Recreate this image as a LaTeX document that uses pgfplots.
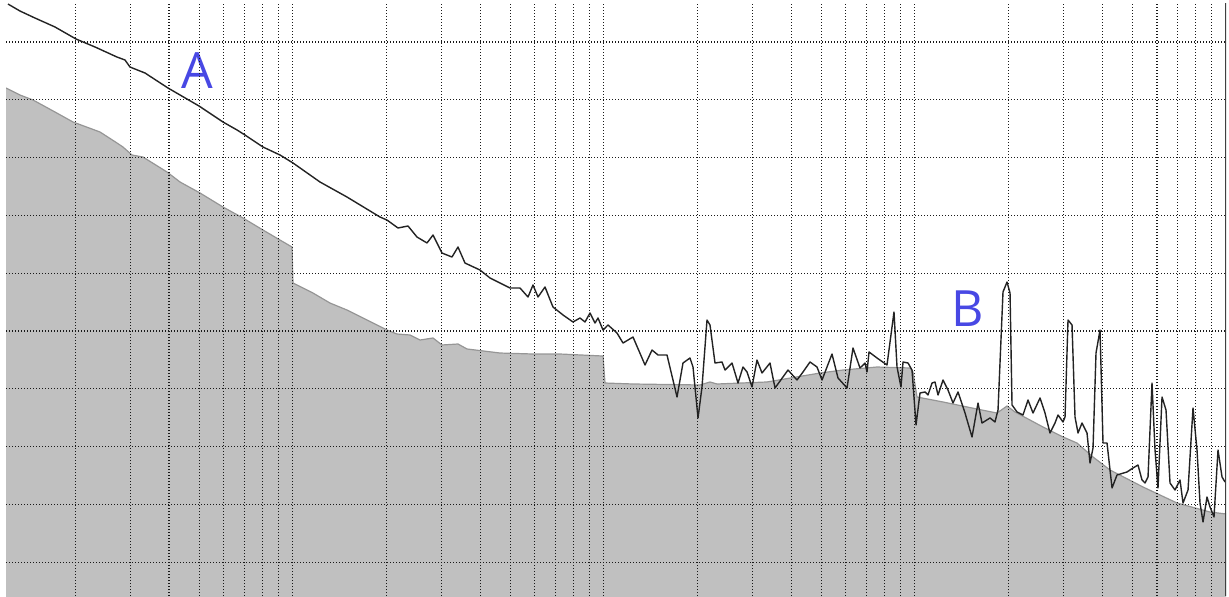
\documentclass[border=0pt]{standalone}
\usepackage{fontspec}
\setmainfont{Open Sans}
\usepackage{pgfplots}
\usepackage{pgfplotstable}
\pgfplotsset{compat=1.18}
\usetikzlibrary{calc}
\definecolor{fillgray}{RGB}{192,192,192}
\definecolor{edgegray}{RGB}{150,150,150}
\definecolor{linegray}{RGB}{35,35,35}
\definecolor{lblue}{RGB}{72,72,228}

% x = log10(frequency), y = level (grid every 10)
\pgfplotstableread{
x y
1.0781 82.04
1.1231 80.83
1.1649 79.97
1.2356 77.89
1.2935 76.16
1.3803 74.43
1.4349 72.53
1.4542 71.83
1.4831 70.45
1.5185 70.10
1.5957 67.51
1.6375 65.78
1.7017 63.88
1.7757 61.45
1.8400 59.55
1.9043 57.47
1.9589 55.74
1.9975 54.53
2.0007 48.30
2.0650 46.57
2.1197 44.84
2.1743 43.63
2.2386 41.90
2.3029 40.17
2.3350 39.48
2.3768 39.31
2.4090 38.44
2.4508 38.79
2.4797 37.58
2.5311 37.75
2.5601 36.89
2.6662 36.19
2.7722 36.02
2.8590 36.02
2.9973 35.67
3.0037 31.00
3.0937 30.83
3.3091 30.66
3.3412 31.18
3.3637 30.83
3.5245 31.18
3.6949 32.73
3.7688 33.25
3.8781 33.77
3.9842 33.60
3.9938 32.91
4.0067 28.58
4.0903 27.72
4.1996 26.50
4.2639 25.81
4.2960 27.02
4.3217 25.99
4.4117 23.39
4.4760 21.66
4.5210 20.62
4.5725 18.20
4.6271 15.95
4.7332 13.01
4.8425 10.24
4.9486 8.68
5.0000 8.34
}\limitdata

\pgfplotstableread{
x y
1.0845 96.57
1.1231 95.36
1.1713 94.15
1.2356 92.60
1.3031 90.52
1.3642 89.14
1.4349 87.40
1.4606 86.89
1.4767 85.67
1.5249 84.64
1.5989 82.04
1.6985 78.93
1.7757 76.16
1.8207 74.78
1.8464 73.91
1.9043 71.83
1.9589 70.45
2.0007 69.07
2.0875 65.78
2.1743 63.18
2.2804 59.72
2.3029 59.20
2.3383 57.82
2.3704 58.17
2.3993 56.26
2.4315 55.23
2.4508 56.61
2.4797 53.49
2.5118 52.80
2.5311 54.53
2.5536 51.76
2.6019 50.55
2.6340 49.17
2.6983 47.44
2.7304 47.44
2.7562 45.88
2.7722 47.96
2.7883 45.88
2.8108 47.61
2.8365 44.15
2.8687 42.77
2.9008 41.56
2.9233 42.25
2.9394 41.56
2.9555 43.11
2.9716 41.38
2.9812 42.25
2.9973 40.17
3.0133 41.04
3.0423 39.65
3.0616 37.92
3.0937 38.96
3.1323 34.12
3.1548 36.71
3.1741 35.85
3.2030 35.85
3.2352 28.58
3.2544 34.46
3.2769 35.33
3.2866 33.77
3.3027 24.95
3.3155 30.31
3.3316 41.90
3.3412 41.04
3.3573 34.46
3.3798 34.64
3.3895 33.25
3.4120 34.46
3.4313 31.00
3.4473 33.77
3.4602 32.91
3.4763 30.31
3.4923 34.98
3.5084 32.73
3.5341 34.46
3.5502 30.14
3.5920 33.25
3.6209 31.52
3.6402 32.91
3.6627 34.64
3.6852 33.77
3.7013 31.52
3.7334 36.02
3.7527 31.87
3.7817 30.14
3.8009 37.06
3.8234 33.60
3.8395 34.46
3.8459 32.91
3.8524 36.37
3.8781 35.33
3.9102 34.12
3.9327 43.29
3.9424 33.77
3.9552 30.31
3.9617 34.64
3.9778 34.46
3.9906 33.25
4.0035 23.74
4.0163 29.27
4.0324 29.45
4.0420 28.93
4.0549 31.00
4.0645 31.18
4.0742 28.93
4.0903 31.52
4.1063 29.79
4.1224 27.54
4.1385 29.45
4.1610 25.81
4.1835 21.66
4.2028 27.54
4.2156 24.08
4.2414 24.95
4.2574 24.26
4.2671 26.33
4.2831 46.75
4.2960 48.48
4.3057 46.57
4.3121 27.20
4.3282 25.99
4.3474 25.47
4.3635 28.06
4.3796 25.81
4.4021 28.41
4.4182 25.81
4.4342 22.35
4.4503 24.08
4.4600 25.47
4.4760 24.26
4.4825 25.12
4.4921 41.90
4.5050 41.04
4.5146 25.12
4.5243 22.35
4.5371 24.08
4.5532 22.35
4.5628 17.16
4.5725 19.76
4.5821 36.19
4.5950 40.17
4.6046 20.62
4.6175 20.62
4.6336 12.84
4.6496 15.09
4.6818 15.61
4.7011 16.30
4.7171 16.82
4.7300 14.22
4.7396 13.70
4.7493 14.74
4.7621 31.00
4.7718 19.41
4.7814 12.84
4.7943 28.58
4.8071 26.33
4.8200 13.70
4.8361 12.49
4.8521 14.22
4.8618 10.24
4.8779 12.49
4.8939 26.68
4.9068 19.41
4.9164 10.24
4.9261 6.96
4.9389 11.28
4.9486 9.55
4.9614 7.82
4.9743 19.41
4.9872 14.74
4.9968 13.88
}\measdata

\begin{document}
\begin{tikzpicture}
\begin{axis}[
  scale only axis,
  width=610pt, height=296.5pt,
  xmin=1.0781, xmax=5,
  ymin=-5.85, ymax=96.75,
  xtick={1.30103,1.47712,1.60206,1.69897,1.77815,1.84510,1.90309,1.95424,2,
         2.30103,2.47712,2.60206,2.69897,2.77815,2.84510,2.90309,2.95424,3,
         3.30103,3.47712,3.60206,3.69897,3.77815,3.84510,3.90309,3.95424,4,
         4.30103,4.47712,4.60206,4.69897,4.77815,4.84510,4.90309,4.95424},
  ytick={0,10,...,90},
  xticklabels={}, yticklabels={},
  major tick length=0pt,
  tick style={draw=none},
  axis line style={draw=none},
  grid=major,
  major grid style={black!90, line width=0.55pt, dash pattern=on 0.5pt off 1pt},
  axis on top,
]
\addplot[fill=fillgray, draw=none] table {\limitdata} |- (axis cs:1.0781,-10) -- cycle;
\addplot[edgegray, line width=0.6pt] table {\limitdata};
\addplot[linegray, line width=0.7pt, line join=round] table {\measdata};
\draw[black!75, line width=1pt] (rel axis cs:1,0) -- (rel axis cs:1,1);
\node[lblue, font=\fontsize{25}{30}\selectfont] at (axis cs:1.6937,84.98) {A};
\node[lblue, font=\fontsize{25}{30}\selectfont] at (axis cs:4.1690,43.89) {B};
\end{axis}
\pgfresetboundingbox
\path[use as bounding box] ($(current axis.south west)+(-3pt,0)$) rectangle ($(current axis.north east)+(1.5pt,1.5pt)$);
\end{tikzpicture}
\end{document}
